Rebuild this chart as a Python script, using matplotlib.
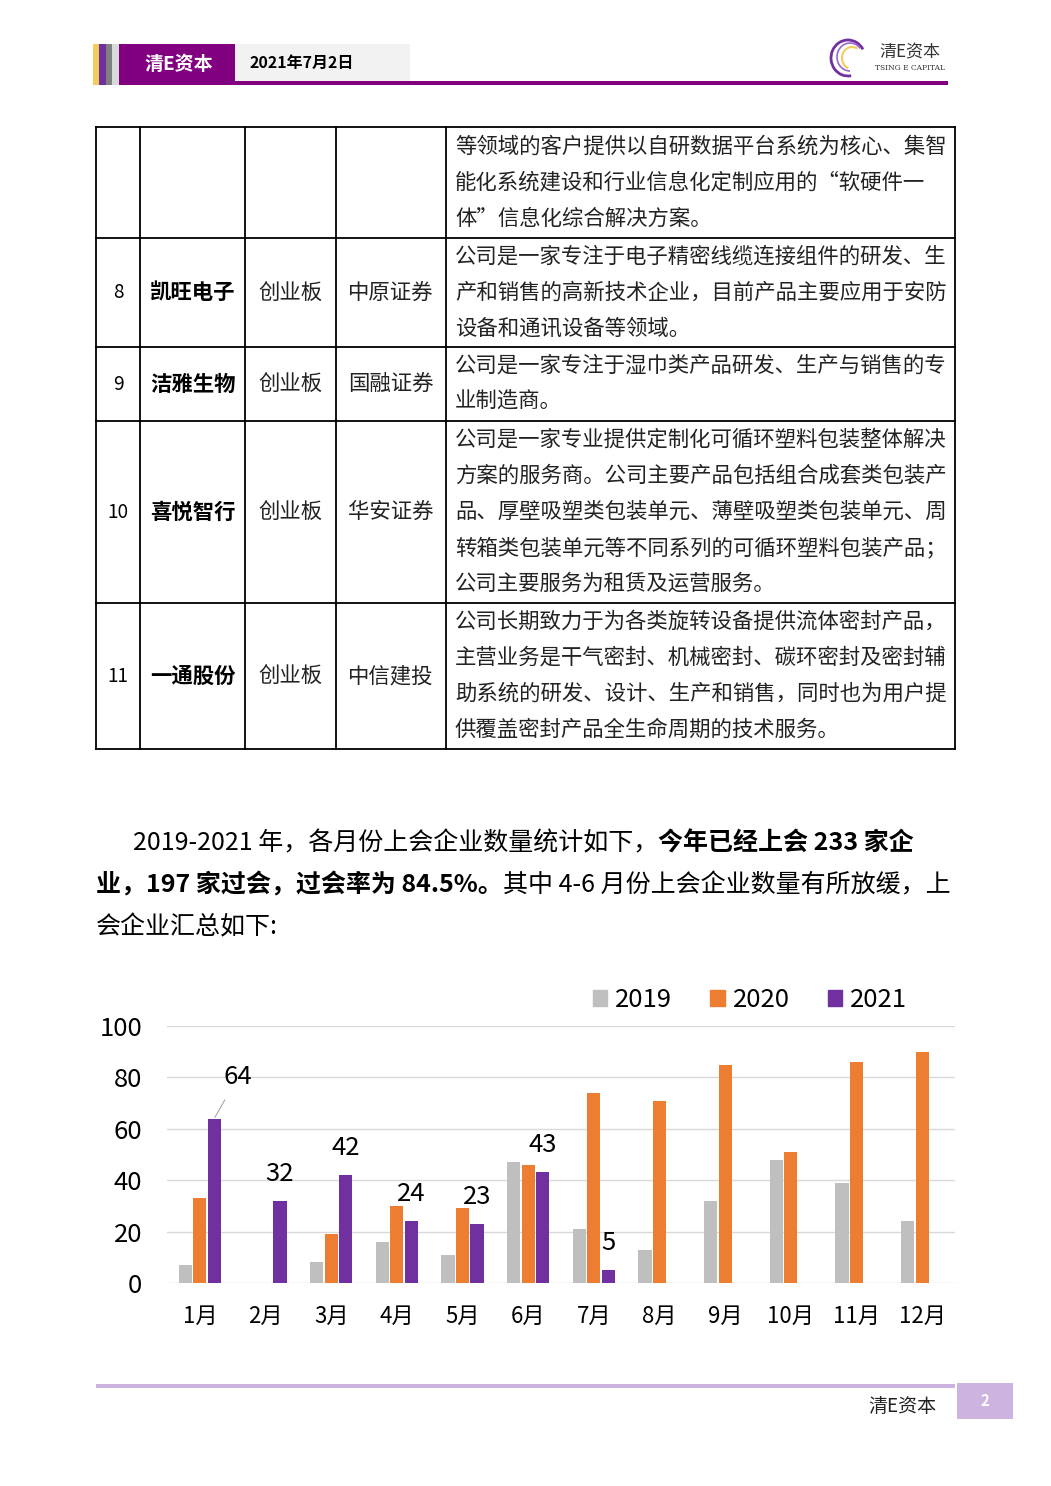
"""Page 2 of the report: IPO committee table tail + monthly bar chart."""

import matplotlib
matplotlib.use('Agg')
import matplotlib.pyplot as plt
from matplotlib.patches import Rectangle, Arc, Patch
import numpy as np

plt.rcParams['font.family'] = ['Noto Sans CJK SC', 'DejaVu Sans']

# ---- chart data ----
months = ['1月', '2月', '3月', '4月', '5月', '6月', '7月', '8月', '9月', '10月', '11月', '12月']
y2019 = [7, 0, 8, 16, 11, 47, 21, 13, 32, 48, 39, 24]
y2020 = [33, 0, 19, 30, 29, 46, 74, 71, 85, 51, 86, 90]
y2021 = [64, 32, 42, 24, 23, 43, 5]
series_names = ['2019', '2020', '2021']
colors = ['#BFBFBF', '#ED7D31', '#7030A0']

# ---- table data ----
row_no = ['', '8', '9', '10', '11']
row_name = ['', '凯旺电子', '洁雅生物', '喜悦智行', '一通股份']
row_board = ['', '创业板', '创业板', '创业板', '创业板']
row_broker = ['', '中原证券', '国融证券', '华安证券', '中信建投']
row_desc = [
    ['等领域的客户提供以自研数据平台系统为核心、集智',
     '能化系统建设和行业信息化定制应用的“软硬件一',
     '体”信息化综合解决方案。'],
    ['公司是一家专注于电子精密线缆连接组件的研发、生',
     '产和销售的高新技术企业，目前产品主要应用于安防',
     '设备和通讯设备等领域。'],
    ['公司是一家专注于湿巾类产品研发、生产与销售的专',
     '业制造商。'],
    ['公司是一家专业提供定制化可循环塑料包装整体解决',
     '方案的服务商。公司主要产品包括组合成套类包装产',
     '品、厚壁吸塑类包装单元、薄壁吸塑类包装单元、周',
     '转箱类包装单元等不同系列的可循环塑料包装产品；',
     '公司主要服务为租赁及运营服务。'],
    ['公司长期致力于为各类旋转设备提供流体密封产品，',
     '主营业务是干气密封、机械密封、碳环密封及密封辅',
     '助系统的研发、设计、生产和销售，同时也为用户提',
     '供覆盖密封产品全生命周期的技术服务。'],
]

# paragraph: (text, bold) segments per line
para_lines = [
    [('2019-2021 年，各月份上会企业数量统计如下，', False), ('今年已经上会 233 家企', True)],
    [('业，197 家过会，过会率为 84.5%。', True), ('其中 4-6 月份上会企业数量有所放缓，上', False)],
    [('会企业汇总如下:', False)],
]

W, H = 1051, 1486
fig = plt.figure(figsize=(W / 100, H / 100), dpi=100)
page = fig.add_axes([0, 0, 1, 1])
page.set_xlim(0, W)
page.set_ylim(H, 0)
page.axis('off')


def pt(px):
    return px * 0.72


# ---- header ----
purple = '#800080'
for x0, x1, c in [(93, 99, '#F2CD5C'), (99, 106, '#7030A0'), (106, 112, '#808080'), (112, 119, '#D9D9D9')]:
    page.add_patch(Rectangle((x0, 44), x1 - x0, 41, color=c, lw=0))
page.add_patch(Rectangle((119, 44), 116, 41, color=purple, lw=0))
page.add_patch(Rectangle((235, 44), 175, 38, color='#F2F2F2', lw=0))
page.add_patch(Rectangle((235, 81), 713, 3.5, color=purple, lw=0))
page.text(179, 65, '清E资本', color='white', fontsize=pt(19), fontweight='bold',
          ha='center', va='center')
page.text(249, 63, '2021年7月2日', color='black', fontsize=pt(16), fontweight='bold',
          ha='left', va='center')

# logo
page.add_patch(Arc((848, 58), 34, 36, theta1=80, theta2=330, color='#7030A0', lw=2))
page.add_patch(Arc((850, 57), 26, 28, theta1=90, theta2=320, color='#9966CC', lw=1.2))
page.add_patch(Arc((852, 58), 20, 22, theta1=110, theta2=300, color='#F2CD5C', lw=1.5))
page.text(910, 52, '清E资本', fontsize=pt(17), ha='center', va='center', color='#333333')
page.text(910, 68, 'TSING E CAPITAL', fontsize=pt(7.5), ha='center', va='center',
          color='#333333', family='DejaVu Serif')

# ---- table ----
col_x = [96, 140, 245, 336, 446, 955]
row_y = [127, 238, 347, 421, 603, 749]
for x in col_x:
    page.plot([x, x], [row_y[0], row_y[-1]], color='black', lw=1.3)
for y in row_y:
    page.plot([col_x[0], col_x[-1]], [y, y], color='black', lw=1.3)

fs_tab = pt(21.4)
line_gap = 36
for i in range(len(row_desc)):
    top, bot = row_y[i], row_y[i + 1]
    mid = (top + bot) / 2
    page.text((col_x[0] + col_x[1]) / 2, mid, row_no[i], fontsize=pt(19), ha='center', va='center')
    page.text((col_x[1] + col_x[2]) / 2, mid, row_name[i], fontsize=fs_tab, fontweight='bold',
              ha='center', va='center')
    page.text((col_x[2] + col_x[3]) / 2, mid, row_board[i], fontsize=fs_tab, ha='center',
              va='center', color='#222222')
    page.text((col_x[3] + col_x[4]) / 2, mid, row_broker[i], fontsize=fs_tab, ha='center',
              va='center', color='#222222')
    n = len(row_desc[i])
    for j, line in enumerate(row_desc[i]):
        y = mid + (j - (n - 1) / 2) * line_gap
        page.text(455, y, line, fontsize=fs_tab, ha='left', va='center', color='#222222')

# ---- paragraph ----
renderer = fig.canvas.get_renderer()
fs_par = pt(25)
para_y = [843, 885, 927]
para_x = [133, 96, 96]
for segs, y, x in zip(para_lines, para_y, para_x):
    for text, bold in segs:
        t = page.text(x, y, text, fontsize=fs_par, fontweight='bold' if bold else 'normal',
                      ha='left', va='center', color='black')
        x += t.get_window_extent(renderer=renderer).width

# ---- chart ----
ax = fig.add_axes([167 / W, (H - 1283) / H, 788 / W, 257 / H])
x = np.arange(len(months))
bw = 0.2
off = 0.22
all_series = [y2019, y2020, y2021]
for k, (vals, c) in enumerate(zip(all_series, colors)):
    xs = x[:len(vals)] + (k - 1) * off
    ax.bar(xs, vals, bw, color=c, zorder=3)

for i, v in enumerate(y2021):
    xi = i + off
    if i == 0:
        ax.annotate(str(v), xy=(xi, v), xytext=(17, 30), textcoords='offset points',
                    ha='center', va='center', fontsize=18.5,
                    arrowprops=dict(arrowstyle='-', color='#A6A6A6', lw=0.8,
                                    shrinkA=6, shrinkB=1))
    else:
        ax.annotate(str(v), xy=(xi, v), xytext=(0, 19.5), textcoords='offset points',
                    ha='center', va='center', fontsize=18.5)

ax.set_xlim(-0.5, len(months) - 0.5)
ax.set_ylim(0, 100)
ax.set_yticks(np.arange(0, 101, 20))
ax.grid(axis='y', color='#D9D9D9', lw=1, zorder=0)
ax.set_xticks(x)
ax.set_xticklabels(months, fontsize=16)
ax.tick_params(axis='both', length=0)
ax.tick_params(axis='y', labelsize=18.5, pad=18)
ax.tick_params(axis='x', pad=16)
for s in ax.spines.values():
    s.set_visible(False)
ax.set_facecolor('none')

handles = [Patch(color=c, label=n) for c, n in zip(colors, series_names)]
fig.legend(handles=handles, loc='center', bbox_to_anchor=(750 / W, 1 - 1000 / H), ncol=3,
           frameon=False, fontsize=18.5, handlelength=0.56, handleheight=0.56,
           handletextpad=0.3, columnspacing=1.5)

# ---- footer ----
page.add_patch(Rectangle((96, 1384), 859, 4, color='#CDB4E0', lw=0))
page.add_patch(Rectangle((957, 1383), 56, 36, color='#CDB4E0', lw=0))
page.text(985, 1401, '2', color='white', fontsize=pt(15), fontweight='bold',
          ha='center', va='center')
page.text(902, 1406, '清E资本', color='#222222', fontsize=pt(19), ha='center', va='center')

fig.savefig('out.png', dpi=100)
